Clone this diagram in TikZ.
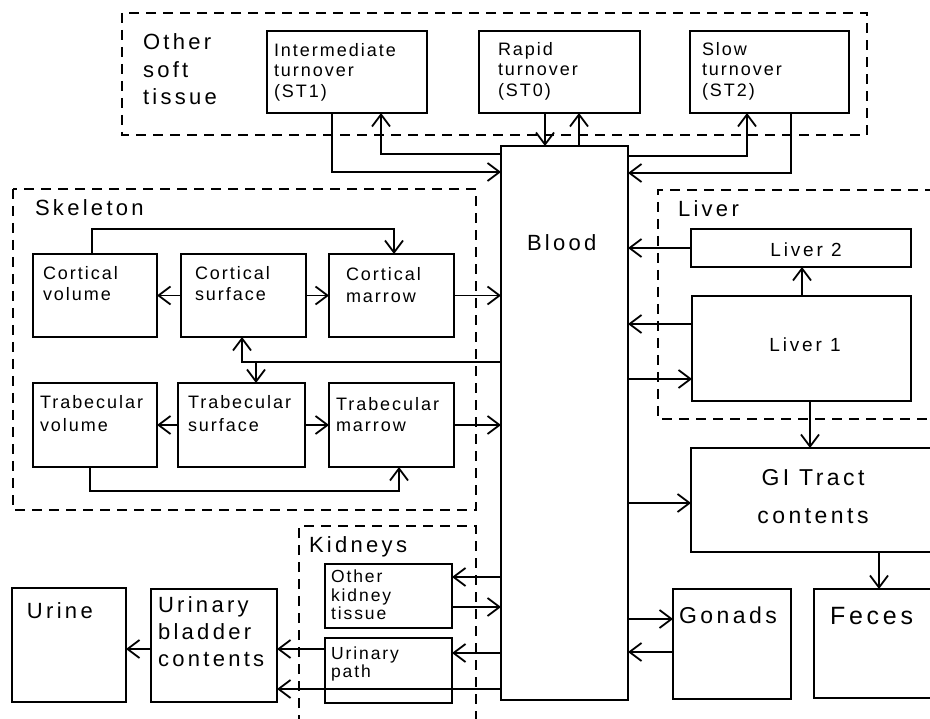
\documentclass[tikz,border=0pt]{standalone}
\usepackage{fontspec}
\setmainfont{Liberation Sans}[LetterSpace=15]
\newfontfamily\smf{Liberation Sans}[LetterSpace=11]
\usetikzlibrary{arrows.meta}
\newcommand{\fsz}[2]{\fontsize{#1}{#2}\selectfont}
\newcommand{\ssz}[2]{\smf\fontsize{#1}{#2}\selectfont}
\tikzset{
  box/.style={draw, line width=1.8pt, inner sep=0pt, outer sep=0pt},
  grp/.style={draw, line width=1.7pt, dash pattern=on 10pt off 7pt},
  arr/.style={line width=1.8pt, -{Straight Barb[length=12pt,width=18pt]}},
  lbl/.style={inner sep=0pt, outer sep=0pt, align=left, anchor=north west},
  clbl/.style={inner sep=0pt, outer sep=0pt, align=center, anchor=north},
}
\newcommand{\bx}[5]{\node[box, minimum width={#4-#2}, minimum height={#5-#3}] (#1) at ({(#2+#4)/2},{(#3+#5)/2}) {};}
\begin{document}
\begin{tikzpicture}[x=1pt,y=-1pt]
\useasboundingbox (0,0) rectangle (930,719);
\fill[white] (0,0) rectangle (930,719);

% group outlines
\draw[grp] (122,13) rectangle (867,135);
\draw[grp] (13,189) rectangle (476,510);
\draw[grp] (935,190) -- (658,190) -- (658,419) -- (935,419);
\draw[grp] (299,725) -- (299,526) -- (476,526) -- (476,725);

% boxes
\bx{st1}{267}{31}{427}{113}
\bx{st0}{479}{31}{640}{113}
\bx{st2}{690}{31}{849}{113}
\bx{blood}{501}{146}{628}{700}
\bx{cv}{33}{254}{157}{337}
\bx{cs}{181}{254}{306}{337}
\bx{cm}{329}{254}{454}{337}
\bx{tv}{33}{383}{157}{467}
\bx{ts}{178}{383}{305}{467}
\bx{tm}{329}{383}{454}{467}
\bx{l2}{691}{229}{911}{267}
\bx{l1}{692}{296}{911}{401}
\bx{gi}{691}{448}{945}{552}
\bx{go}{673}{589}{791}{699}
\bx{fe}{814}{589}{945}{698}
\bx{ok}{325}{564}{452}{628}
\bx{up}{325}{638}{452}{703}
\bx{ub}{151}{589}{277}{702}
\bx{ur}{12}{588}{126}{702}

% texts
\node[lbl, font=\fsz{22}{27.5}] (tost) at (143,34) {Other\\soft\\tissue};
\node[lbl, font=\ssz{18}{20.5}] (tst1) at (274,43) {Intermediate\\turnover\\(ST1)};
\node[lbl, font=\ssz{18}{20.5}] (tst0) at (498,42) {Rapid\\turnover\\(ST0)};
\node[lbl, font=\ssz{18}{20.5}] (tst2) at (702,42) {Slow\\turnover\\(ST2)};
\node[lbl, font=\fsz{22}{27}] (tskel) at (35,200) {Skeleton};
\node[lbl, font=\ssz{18}{21}] (tcv) at (43,266) {Cortical\\volume};
\node[lbl, font=\ssz{18}{21}] (tcs) at (195,266) {Cortical\\surface};
\node[lbl, font=\ssz{18}{22.5}] (tcm) at (346,267) {Cortical\\marrow};
\node[lbl, font=\ssz{18}{23}] (ttv) at (40,395) {Trabecular\\volume};
\node[lbl, font=\ssz{18}{23}] (tts) at (188,395) {Trabecular\\surface};
\node[lbl, font=\ssz{18}{21.5}] (ttm) at (336,397) {Trabecular\\marrow};
\node[lbl, font=\fsz{22}{27}] (tblood) at (527,235) {Blood};
\node[lbl, font=\fsz{22}{27}] (tliver) at (678,201) {Liver};
\node[clbl, font=\fsz{19}{23}] (tl2) at (806,243) {Liver 2};
\node[clbl, font=\fsz{19}{23}] (tl1) at (805,338) {Liver 1};
\node[clbl, font=\fsz{23}{38}] (tgi) at (813,469) {GI Tract\\contents};
\node[lbl, font=\fsz{23}{27}] (tgo) at (679,607) {Gonads};
\node[lbl, font=\fsz{25}{30}] (tfe) at (830,607) {Feces};
\node[lbl, font=\fsz{22}{27}] (tkid) at (309,537) {Kidneys};
\node[lbl, font=\ssz{17.5}{18.5}] (tok) at (331,570) {Other\\kidney\\tissue};
\node[lbl, font=\ssz{17.5}{18}] (tup) at (331,647) {Urinary\\path};
\node[lbl, font=\fsz{22}{27}] (tub) at (158,597) {Urinary\\bladder\\contents};
\node[lbl, font=\fsz{22}{27}] (tur) at (27,603) {Urine};

% soft tissue connectors
\draw[arr] (st1.south -| 332,0) |- (blood.west |- 0,172);
\draw[arr] (blood.west |- 0,154) -| (st1.south -| 381,0);
\draw[arr] (st0.south -| 545,0) -- (blood.north -| 545,0);
\draw[arr] (blood.north -| 579,0) -- (st0.south -| 579,0);
\draw[arr] (blood.east |- 0,156) -| (st2.south -| 747,0);
\draw[arr] (st2.south -| 791,0) |- (blood.east |- 0,173);

% skeleton connectors
\draw[arr] (cv.north -| 92,0) -- (92,229) -| (cm.north -| 394,0);
\draw[arr] (cs.west) -- (cv.east);
\draw[arr] (cs.east) -- (cm.west);
\draw[arr] (cm.east) -- (blood.west |- cm.east);
\draw[arr] (blood.west |- 0,362) -| (cs.south -| 242,0);
\coordinate (j1) at (256,362);
\draw[arr] (j1) -- (ts.north -| j1);
\draw[arr] (ts.west) -- (tv.east);
\draw[arr] (ts.east) -- (tm.west);
\draw[arr] (tm.east) -- (blood.west |- tm.east);
\draw[arr] (tv.south -| 90,0) -- (90,491) -| (tm.south -| 399,0);

% liver and GI connectors
\draw[arr] (l2.west) -- (blood.east |- l2.west);
\draw[arr] (l1.north -| 802,0) -- (l2.south -| 802,0);
\draw[arr] (l1.west |- 0,324) -- (blood.east |- 0,324);
\draw[arr] (blood.east |- 0,379) -- (l1.west |- 0,379);
\draw[arr] (l1.south -| 810,0) -- (gi.north -| 810,0);
\draw[arr] (blood.east |- 0,503) -- (gi.west |- 0,503);
\draw[arr] (gi.south -| 879,0) -- (fe.north -| 879,0);
\draw[arr] (blood.east |- 0,619) -- (go.west |- 0,619);
\draw[arr] (go.west |- 0,652) -- (blood.east |- 0,652);

% kidney connectors
\draw[arr] (blood.west |- 0,577) -- (ok.east |- 0,577);
\draw[arr] (ok.east |- 0,607) -- (blood.west |- 0,607);
\draw[arr] (blood.west |- 0,653) -- (up.east |- 0,653);
\draw[arr] (blood.west |- 0,689) -- (ub.east |- 0,689);
\draw[arr] (up.west |- 0,649) -- (ub.east |- 0,649);
\draw[arr] (ub.west |- 0,649) -- (ur.east |- 0,649);
\end{tikzpicture}
\end{document}
